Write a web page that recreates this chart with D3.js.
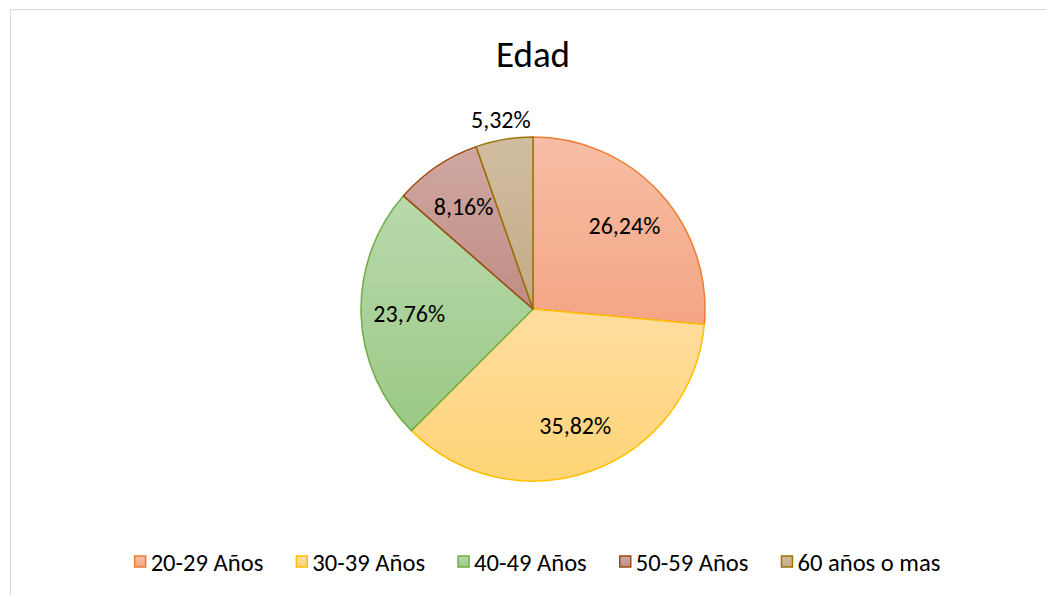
<!DOCTYPE html>
<html>
<head>
<meta charset="utf-8">
<script src="https://cdn.jsdelivr.net/npm/d3@7"></script>
<style>
  body { margin: 0; background: #fff; }
  text { font-family: Carlito, Calibri, Lato, sans-serif; fill: #000; }
</style>
</head>
<body>
<svg></svg>
<script>
// data
let categories = ["20-29 Años", "30-39 Años", "40-49 Años", "50-59 Años", "60 años o mas"];
let values = [26.24, 35.82, 23.76, 8.16, 5.32];
let labels = ["26,24%", "35,82%", "23,76%", "8,16%", "5,32%"];

let strokeColors = ["#ED7D31", "#FFC000", "#70AD47", "#9E480E", "#997300"];
let topColors = ["#F7BEA5", "#FFDD9F", "#B9D9AC", "#CFA8A1", "#D0BDA2"];
let bottomColors = ["#F4A584", "#FFD477", "#9BC986", "#BF8D85", "#C4AB86"];

let width = 1046;
let height = 595;
let cx = 533;
let cy = 309;
let radius = 172;

let svg = d3.select('svg')
  .attr('width', width)
  .attr('height', height);

// chart frame
svg.append('rect')
  .attr('x', 10.5)
  .attr('y', 9.5)
  .attr('width', 1046)
  .attr('height', 600)
  .attr('fill', '#fff')
  .attr('stroke', '#d9d9d9')
  .attr('stroke-width', 1);

let defs = svg.append('defs');
categories.forEach((c, i) => {
  let g = defs.append('linearGradient')
    .attr('id', 'grad' + i)
    .attr('x1', 0).attr('y1', 0)
    .attr('x2', 0).attr('y2', 1);
  g.append('stop').attr('offset', '0%').attr('stop-color', topColors[i]);
  g.append('stop').attr('offset', '100%').attr('stop-color', bottomColors[i]);
});

svg.append('text')
  .attr('x', cx)
  .attr('y', 67)
  .attr('text-anchor', 'middle')
  .style('font-size', '37px')
  .style('font-weight', 300)
  .text('Edad');

let pie = d3.pie().sort(null).value(d => d);
let arcs = pie(values);
let arc = d3.arc().innerRadius(0).outerRadius(radius);

let chart = svg.append('g')
  .attr('transform', 'translate(' + cx + ',' + cy + ')');

chart.selectAll('path')
  .data(arcs)
  .enter()
  .append('path')
  .attr('d', arc)
  .attr('fill', (d, i) => 'url(#grad' + i + ')')
  .attr('stroke', (d, i) => strokeColors[i])
  .attr('stroke-width', 1.5)
  .attr('stroke-linejoin', 'round');

let total = d3.sum(values);
chart.selectAll('text.lbl')
  .data(arcs)
  .enter()
  .append('text')
  .attr('class', 'lbl')
  .attr('transform', d => {
    let small = (d.value / total) < 0.06;
    let r = small ? radius + 20 : radius * 0.72;
    let a = (d.startAngle + d.endAngle) / 2;
    return 'translate(' + (Math.sin(a) * r) + ',' + (-Math.cos(a) * r) + ')';
  })
  .attr('text-anchor', 'middle')
  .attr('dy', '0.35em')
  .style('font-size', '24px')
  .text((d, i) => labels[i]);

// legend
let legend = svg.append('g');
let items = legend.selectAll('g')
  .data(categories)
  .enter()
  .append('g');

items.append('rect')
  .attr('width', 11)
  .attr('height', 11)
  .attr('y', -6)
  .attr('fill', (d, i) => 'url(#grad' + i + ')')
  .attr('stroke', (d, i) => strokeColors[i])
  .attr('stroke-width', 1.5);

items.append('text')
  .attr('x', 16)
  .attr('dy', '0.35em')
  .style('font-size', '24.6px')
  .text(d => d);

let xPos = 0;
items.each(function () {
  let w = d3.select(this).select('text').node().getComputedTextLength() + 16;
  d3.select(this).attr('transform', 'translate(' + xPos + ',0)');
  xPos += w + 33;
});
let legendWidth = xPos - 33;
legend.attr('transform', 'translate(' + (537.5 - legendWidth / 2) + ',562)');
</script>
</body>
</html>
